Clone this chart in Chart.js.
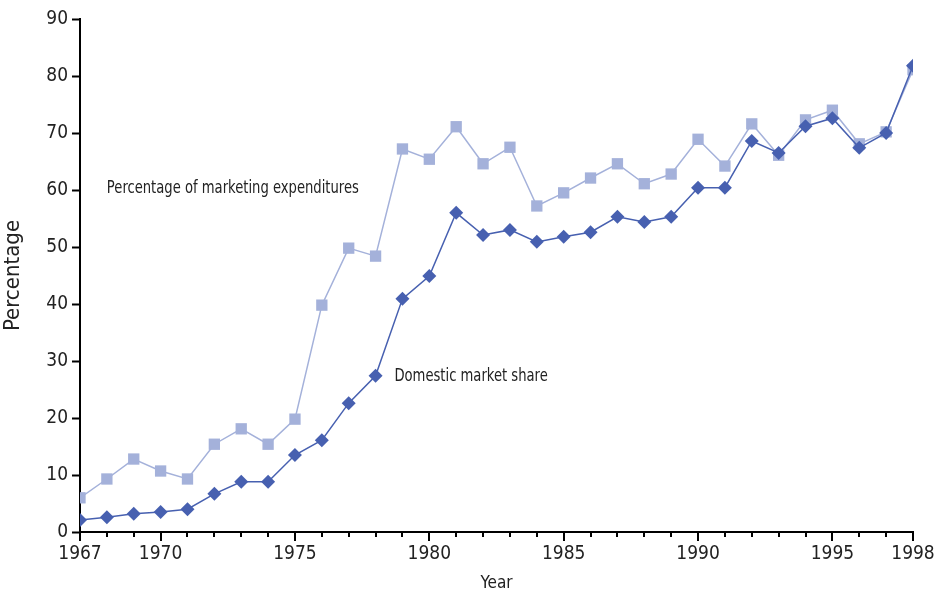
<!DOCTYPE html>
<html>
<head>
<meta charset="utf-8">
<script src="https://cdn.jsdelivr.net/npm/chart.js@4/dist/chart.umd.min.js"></script>
<style>
  html, body { margin: 0; padding: 0; background: #fff; }
  #wrap { width: 937px; height: 594px; }
</style>
</head>
<body>
<div id="wrap"><canvas id="chart"></canvas></div>
<script>
const years = [];
for (let y = 1967; y <= 1998; y++) years.push(y);

const marketShare = [2.1, 2.6, 3.2, 3.5, 4.0, 6.7, 8.8, 8.8, 13.5, 16.1, 22.6, 27.4, 40.9, 44.9, 56.0, 52.1,
    53.0, 50.9, 51.8, 52.6, 55.3, 54.4, 55.3, 60.4, 60.4, 68.6, 66.5, 71.2, 72.6, 67.4, 70.0, 81.8];
const marketingExp = [6.0, 9.3, 12.8, 10.7, 9.3, 15.4, 18.1, 15.4, 19.8, 39.8, 49.8, 48.4, 67.2, 65.4, 71.1, 64.6,
    67.5, 57.2, 59.5, 62.1, 64.6, 61.1, 62.8, 68.9, 64.2, 71.6, 66.1, 72.3, 74.0, 68.1, 70.2, 81.1];
const labeledYears = [1967, 1970, 1975, 1980, 1985, 1990, 1995, 1998];
const yTicks = [0, 10, 20, 30, 40, 50, 60, 70, 80, 90];

const FONT = "'DejaVu Sans Condensed', 'DejaVu Sans', sans-serif";
const DARK = '#4760b0';
const LIGHT = '#a4b1da';

// series labels written inside the plot
const seriesNotes = [
    { text: 'Percentage of marketing expenditures', x: 1968.0, y: 60.2 },
    { text: 'Domestic market share', x: 1978.7, y: 27.2 }
];

const notesPlugin = {
    id: 'notes',
    afterDatasetsDraw(chart) {
        const { ctx, scales } = chart;
        ctx.save();
        ctx.font = '17px ' + FONT;
        ctx.fillStyle = '#222';
        ctx.textAlign = 'left';
        ctx.textBaseline = 'middle';
        seriesNotes.forEach(n => {
            const px = scales.x.getPixelForValue(n.x);
            const py = scales.y.getPixelForValue(n.y);
            ctx.save();
            ctx.translate(px, py);
            ctx.scale(0.86, 1); // squeeze to look like the narrow face of the original
            ctx.fillText(n.text, 0, 0);
            ctx.restore();
        });
        ctx.restore();
    }
};

// year ticks: longer marks under the labelled years
const yearTicksPlugin = {
    id: 'yearTicks',
    afterDraw(chart) {
        const { ctx, scales } = chart;
        const base = scales.x.top;
        ctx.save();
        ctx.strokeStyle = '#000';
        ctx.lineWidth = 2;
        years.forEach(y => {
            const px = Math.round(scales.x.getPixelForValue(y));
            const len = labeledYears.includes(y) ? 9 : 5;
            ctx.beginPath();
            ctx.moveTo(px, base);
            ctx.lineTo(px, base + len);
            ctx.stroke();
        });
        ctx.restore();
    }
};

new Chart(document.getElementById('chart'), {
    type: 'line',
    data: {
        datasets: [
            {
                label: 'Domestic market share',
                data: years.map((y, i) => ({ x: y, y: marketShare[i] })),
                borderColor: DARK,
                backgroundColor: DARK,
                borderWidth: 1.5,
                pointStyle: 'rectRot',
                pointRadius: 7,
                pointBorderWidth: 0,
                order: 0
            },
            {
                label: 'Percentage of marketing expenditures',
                data: years.map((y, i) => ({ x: y, y: marketingExp[i] })),
                borderColor: LIGHT,
                backgroundColor: LIGHT,
                borderWidth: 1.5,
                pointStyle: 'rect',
                pointRadius: 8,
                pointBorderWidth: 0,
                order: 1
            }
        ]
    },
    options: {
        responsive: true,
        maintainAspectRatio: false,
        animation: false,
        layout: { padding: { top: 19, right: 24, left: 0, bottom: 0 } },
        plugins: { legend: { display: false }, tooltip: { enabled: false } },
        scales: {
            x: {
                type: 'linear',
                min: 1967,
                max: 1998,
                afterBuildTicks: scale => { scale.ticks = years.map(v => ({ value: v })); },
                afterFit: scale => {
                    scale.height = 62;
                    scale.paddingLeft = 0;
                    scale.paddingRight = 0;
                },
                border: { color: '#000', width: 2 },
                grid: { drawOnChartArea: false, drawTicks: false },
                ticks: {
                    autoSkip: false,
                    maxRotation: 0,
                    padding: 11,
                    color: '#222',
                    font: { family: FONT, size: 19 },
                    callback: v => labeledYears.includes(v) ? String(v) : ''
                },
                title: {
                    display: true,
                    text: 'Year',
                    color: '#222',
                    font: { family: FONT, size: 17 },
                    padding: { top: 0, bottom: 0 }
                }
            },
            y: {
                min: 0,
                max: 90,
                afterBuildTicks: scale => { scale.ticks = yTicks.map(v => ({ value: v })); },
                afterFit: scale => {
                    scale.width = 80;
                    scale.paddingTop = 0;
                    scale.paddingBottom = 0;
                },
                border: { color: '#000', width: 2 },
                grid: { drawOnChartArea: false, tickLength: 8, tickColor: '#000', tickWidth: 2 },
                ticks: {
                    padding: 4,
                    color: '#222',
                    font: { family: FONT, size: 19 }
                },
                title: {
                    display: true,
                    text: 'Percentage',
                    color: '#222',
                    font: { family: FONT, size: 22 },
                    padding: 0
                }
            }
        }
    },
    plugins: [notesPlugin, yearTicksPlugin]
});
</script>
</body>
</html>
